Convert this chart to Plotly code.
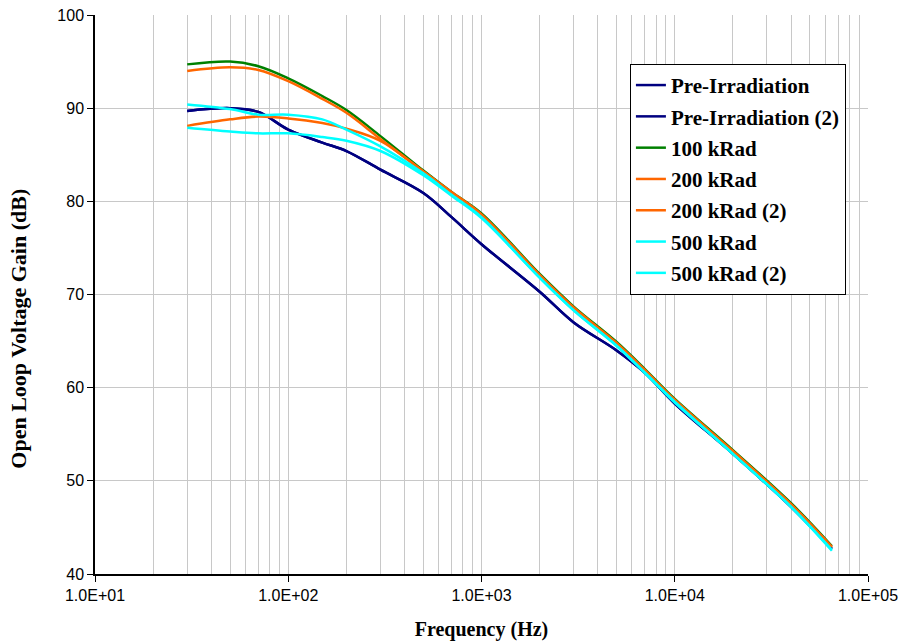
import plotly.graph_objects as go

freq = [30, 50, 70, 100, 150, 200, 300, 500, 700, 1000, 2000, 3000, 5000, 7000, 10000, 20000, 40000, 65000]

pre_irr = [89.7, 90.0, 89.6, 87.7, 86.3, 85.4, 83.4, 80.9, 78.3, 75.4, 70.3, 67.0, 64.0, 61.6, 58.3, 52.9, 47.2, 42.7]
pre_irr2 = [89.7, 90.0, 89.6, 87.7, 86.3, 85.4, 83.4, 80.9, 78.3, 75.4, 70.3, 67.0, 64.0, 61.6, 58.3, 52.9, 47.2, 42.7]
k100 = [94.7, 95.0, 94.5, 93.2, 91.3, 89.8, 87.0, 83.3, 81.0, 78.7, 72.2, 68.7, 64.9, 62.0, 58.8, 53.3, 47.6, 43.0]
k200 = [94.0, 94.4, 94.1, 92.9, 91.0, 89.5, 86.7, 83.2, 81.0, 78.6, 72.1, 68.6, 64.8, 61.9, 58.7, 53.2, 47.5, 42.9]
k200_2 = [88.1, 88.8, 89.1, 88.9, 88.4, 87.8, 86.5, 83.2, 80.9, 78.5, 72.0, 68.5, 64.7, 61.8, 58.6, 53.1, 47.4, 42.9]
k500 = [90.4, 89.9, 89.3, 89.3, 88.8, 87.7, 85.9, 83.0, 80.7, 78.3, 71.8, 68.3, 64.5, 61.6, 58.5, 52.9, 47.2, 42.6]
k500_2 = [87.9, 87.5, 87.3, 87.3, 86.9, 86.5, 85.4, 82.8, 80.6, 78.2, 71.8, 68.3, 64.5, 61.6, 58.4, 52.9, 47.2, 42.5]

names = ["Pre-Irradiation", "Pre-Irradiation (2)", "100 kRad", "200 kRad",
         "200 kRad (2)", "500 kRad", "500 kRad (2)"]
series = [pre_irr, pre_irr2, k100, k200, k200_2, k500, k500_2]
colors = ["#000080", "#000080", "#008000", "#FF6600", "#FF6600", "#00FFFF", "#00FFFF"]

x_tickvals = [10, 100, 1000, 10000, 100000]
x_ticktext = ["1.0E+01", "1.0E+02", "1.0E+03", "1.0E+04", "1.0E+05"]
y_tickvals = [40, 50, 60, 70, 80, 90, 100]

fig = go.Figure()
for i, (n, s, c) in enumerate(zip(names, series, colors)):
    fig.add_trace(go.Scatter(
        x=freq, y=s, name=n, mode="lines",
        line=dict(color=c, width=2.5, shape="spline", smoothing=1.0),
        legendgroup=f"g{i}",
    ))

grid = "#C8C8C8"
title_font = dict(family="Liberation Serif", size=20, color="black", weight="bold")
legend_font = dict(family="Liberation Serif", size=21, color="black", weight="bold")
tick_font = dict(family="Liberation Sans", size=16, color="black")

fig.update_layout(
    width=904, height=641,
    margin=dict(l=95, r=36, t=15, b=67),
    paper_bgcolor="white", plot_bgcolor="white",
    showlegend=True,
    legend=dict(
        x=0.692, y=0.9125, xanchor="left", yanchor="top",
        bgcolor="white", bordercolor="black", borderwidth=1,
        font=legend_font,
        tracegroupgap=1,
        itemwidth=30,
    ),
    xaxis=dict(
        type="log", range=[1, 5], automargin=False,
        tickvals=x_tickvals, ticktext=x_ticktext,
        tickfont=tick_font,
        ticks="outside", ticklen=6, tickcolor="black",
        showline=True, linecolor="black", linewidth=1.5,
        showgrid=True, gridcolor=grid, gridwidth=1,
        minor=dict(dtick="D1", showgrid=True, gridcolor=grid, gridwidth=1, ticks=""),
        title=dict(text="Frequency (Hz)", standoff=19, font=title_font),
        zeroline=False,
    ),
    yaxis=dict(
        range=[40, 100], tickvals=y_tickvals, automargin=False,
        tickfont=tick_font,
        ticks="outside", ticklen=6, tickcolor="black",
        showline=True, linecolor="black", linewidth=1.5,
        showgrid=True, gridcolor=grid, gridwidth=1,
        zeroline=False,
    ),
    annotations=[dict(
        text="Open Loop Voltage Gain (dB)", textangle=-90,
        xref="paper", yref="paper",
        x=-0.1, y=(574 - 329) / 559, xanchor="center", yanchor="middle",
        showarrow=False, font=dict(family="Liberation Serif", size=22, color="black", weight="bold"),
    )],
)

fig.write_html("out.html")
